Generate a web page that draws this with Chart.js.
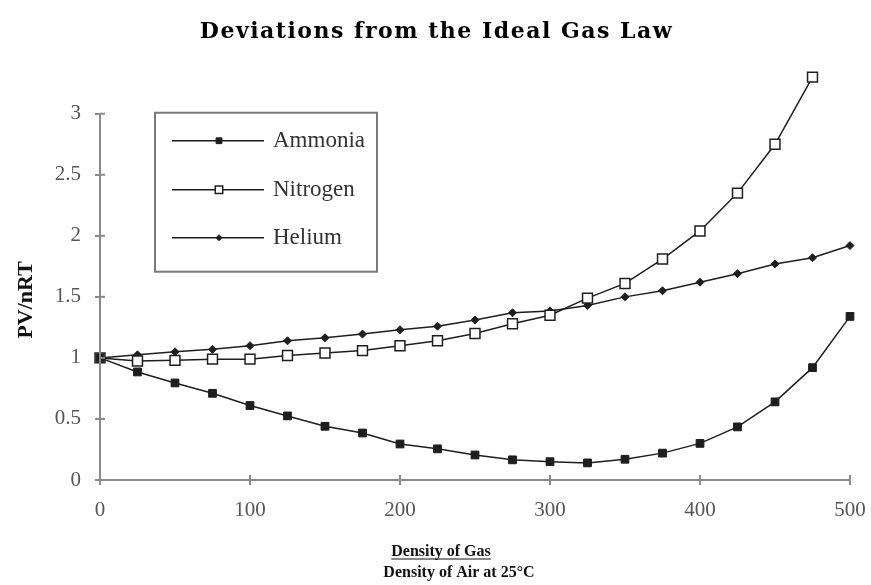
<!DOCTYPE html>
<html>
<head>
<meta charset="utf-8">
<script src="https://cdn.jsdelivr.net/npm/chart.js@4/dist/chart.umd.min.js"></script>
<style>
  html, body { margin: 0; padding: 0; background: #fff; }
  #c { display: block; }
</style>
</head>
<body>
<canvas id="c" width="871" height="585"></canvas>
<script>
// Density ratio (gas / air at 25°C), sampled every 25 units
const densities = [0, 25, 50, 75, 100, 125, 150, 175, 200, 225, 250,
                   275, 300, 325, 350, 375, 400, 425, 450, 475, 500];

// PV/nRT for each gas
const ammonia  = [1.00, 0.885, 0.795, 0.71, 0.61, 0.525, 0.44, 0.385, 0.295, 0.255, 0.205,
                  0.165, 0.15, 0.14, 0.17, 0.22, 0.30, 0.435, 0.64, 0.92, 1.34];
const nitrogen = [1.00, 0.975, 0.98, 0.99, 0.99, 1.02, 1.04, 1.06, 1.10, 1.14, 1.20,
                  1.28, 1.35, 1.49, 1.61, 1.81, 2.04, 2.35, 2.75, 3.30];
const helium   = [1.00, 1.025, 1.05, 1.07, 1.10, 1.14, 1.165, 1.195, 1.23, 1.26, 1.31,
                  1.37, 1.385, 1.43, 1.50, 1.55, 1.62, 1.69, 1.77, 1.82, 1.92];

const seriesNames = ['Ammonia', 'Nitrogen', 'Helium'];
const yTicksShown = [0, 0.5, 1, 1.5, 2, 2.5, 3];
const xTicksShown = [0, 100, 200, 300, 400, 500];
const chartTitle = 'Deviations from the Ideal Gas Law';
const yTitle = 'PV/nRT';
const xTitleLines = ['Density of Gas', 'Density of Air at 25°C'];

const toPoints = vals => vals.map((v, i) => ({ x: densities[i], y: v }));

const AXIS = '#8a8a8a';
const INK = '#1e1e1e';
const Y_TOP = yTicksShown[yTicksShown.length - 1];

// Axis line for y (stops at the top tick), plus tick marks reaching inward
const axisDecor = {
  id: 'axisDecor',
  afterDatasetsDraw(chart) {
    const { ctx, chartArea, scales } = chart;
    ctx.save();
    ctx.strokeStyle = AXIS;
    ctx.lineWidth = 2;
    ctx.beginPath();
    ctx.moveTo(chartArea.left, scales.y.getPixelForValue(0) + 1);
    ctx.lineTo(chartArea.left, scales.y.getPixelForValue(Y_TOP));
    ctx.stroke();
    scales.x.ticks.forEach(t => {
      const px = scales.x.getPixelForValue(t.value);
      ctx.beginPath();
      ctx.moveTo(px, chartArea.bottom);
      ctx.lineTo(px, chartArea.bottom - 5);
      ctx.stroke();
    });
    scales.y.ticks.forEach(t => {
      const py = scales.y.getPixelForValue(t.value);
      ctx.beginPath();
      ctx.moveTo(chartArea.left, py);
      ctx.lineTo(chartArea.left + 5, py);
      ctx.stroke();
    });
    ctx.restore();
  }
};

// Chart title, y title and the two-line underlined x title
const titles = {
  id: 'titles',
  afterDraw(chart) {
    const { ctx, chartArea, scales, width } = chart;
    ctx.save();
    ctx.fillStyle = '#000';
    ctx.textAlign = 'center';
    ctx.textBaseline = 'alphabetic';
    ctx.font = 'bold 22px "DejaVu Serif"';
    ctx.letterSpacing = '1.5px';
    ctx.fillText(chartTitle, width / 2 + 1, 38);
    ctx.letterSpacing = '0px';

    const yMid = (scales.y.getPixelForValue(0) + scales.y.getPixelForValue(Y_TOP)) / 2 + 3;
    ctx.save();
    ctx.translate(32, yMid);
    ctx.rotate(-Math.PI / 2);
    ctx.font = 'bold 22px "Liberation Serif"';
    ctx.fillStyle = '#111';
    ctx.fillText(yTitle, 0, 0);
    ctx.restore();

    const cx = (chartArea.left + chartArea.right) / 2;
    ctx.fillStyle = '#111';
    ctx.font = 'bold 16px "Liberation Serif"';
    const y1 = chartArea.bottom + 76, y2 = chartArea.bottom + 97;
    const c1 = cx - 34, c2 = cx - 16;
    ctx.fillText(xTitleLines[0], c1, y1);
    const w = ctx.measureText(xTitleLines[0]).width;
    ctx.strokeStyle = '#111';
    ctx.lineWidth = 1.2;
    ctx.beginPath();
    ctx.moveTo(c1 - w / 2, y1 + 3);
    ctx.lineTo(c1 + w / 2, y1 + 3);
    ctx.stroke();
    ctx.fillText(xTitleLines[1], c2, y2);
    ctx.restore();
  }
};

// Boxed legend inside the upper-left of the plot
const boxLegend = {
  id: 'boxLegend',
  afterDraw(chart) {
    const { ctx, chartArea, scales } = chart;
    const left = chartArea.left + 55, top = scales.y.getPixelForValue(Y_TOP) - 1;
    const w = 222, h = 159;
    ctx.save();
    ctx.strokeStyle = '#7a7a7a';
    ctx.lineWidth = 2;
    ctx.strokeRect(left, top, w, h);
    const rows = [top + 28, top + 77, top + 125];
    chart.data.datasets.forEach((ds, i) => {
      const y = rows[i];
      ctx.strokeStyle = ds.borderColor;
      ctx.lineWidth = ds.borderWidth;
      ctx.beginPath();
      ctx.moveTo(left + 17, y);
      ctx.lineTo(left + 109, y);
      ctx.stroke();
      ctx.fillStyle = ds.pointBackgroundColor;
      ctx.strokeStyle = ds.pointBorderColor;
      ctx.lineWidth = ds.pointBorderWidth;
      Chart.helpers.drawPoint(ctx, {
        pointStyle: ds.pointStyle,
        radius: ds.pointRadius * 0.75,
        borderWidth: ds.pointBorderWidth
      }, left + 64, y);
      ctx.fillStyle = '#333';
      ctx.font = '23px "Liberation Serif"';
      ctx.textBaseline = 'middle';
      ctx.textAlign = 'left';
      ctx.fillText(ds.label, left + 118, y);
    });
    ctx.restore();
  }
};

const common = { borderColor: INK, borderWidth: 1.5, tension: 0, clip: false, pointBorderColor: INK };

new Chart(document.getElementById('c'), {
  type: 'line',
  data: {
    datasets: [
      Object.assign({}, common, {
        label: seriesNames[0], data: toPoints(ammonia),
        pointStyle: 'rect', pointRadius: 5.5, pointBackgroundColor: INK, pointBorderWidth: 1
      }),
      Object.assign({}, common, {
        label: seriesNames[1], data: toPoints(nitrogen),
        pointStyle: 'rect', pointRadius: 7, pointBackgroundColor: '#fff', pointBorderWidth: 1.5
      }),
      Object.assign({}, common, {
        label: seriesNames[2], data: toPoints(helium),
        pointStyle: 'rectRot', pointRadius: 4, pointBackgroundColor: INK, pointBorderWidth: 1
      })
    ]
  },
  options: {
    responsive: false,
    animation: false,
    devicePixelRatio: 1,
    layout: { padding: { left: 0, right: 21, top: 71, bottom: 0 } },
    plugins: {
      legend: { display: false },
      tooltip: { enabled: false },
      title: { display: false }
    },
    scales: {
      x: {
        type: 'linear', min: 0, max: 500,
        afterBuildTicks: s => { s.ticks = xTicksShown.map(v => ({ value: v })); },
        ticks: { color: '#555', padding: 13, callback: v => String(v),
                 font: { family: 'Liberation Serif', size: 21 } },
        grid: { drawOnChartArea: false, tickLength: 5, color: AXIS, lineWidth: 2 },
        border: { color: AXIS, width: 2 },
        afterFit: s => { s.height = 105; s.paddingLeft = 0; s.paddingRight = 0; }
      },
      y: {
        min: 0, max: 3.35,
        afterBuildTicks: s => { s.ticks = yTicksShown.map(v => ({ value: v })); },
        ticks: { color: '#555', padding: 14, callback: v => String(v),
                 font: { family: 'Liberation Serif', size: 21 } },
        grid: { drawOnChartArea: false, tickLength: 5, color: AXIS, lineWidth: 2 },
        border: { display: false },
        afterFit: s => { s.width = 100; s.paddingTop = 0; s.paddingBottom = 0; }
      }
    }
  },
  plugins: [axisDecor, boxLegend, titles]
});
</script>
</body>
</html>
